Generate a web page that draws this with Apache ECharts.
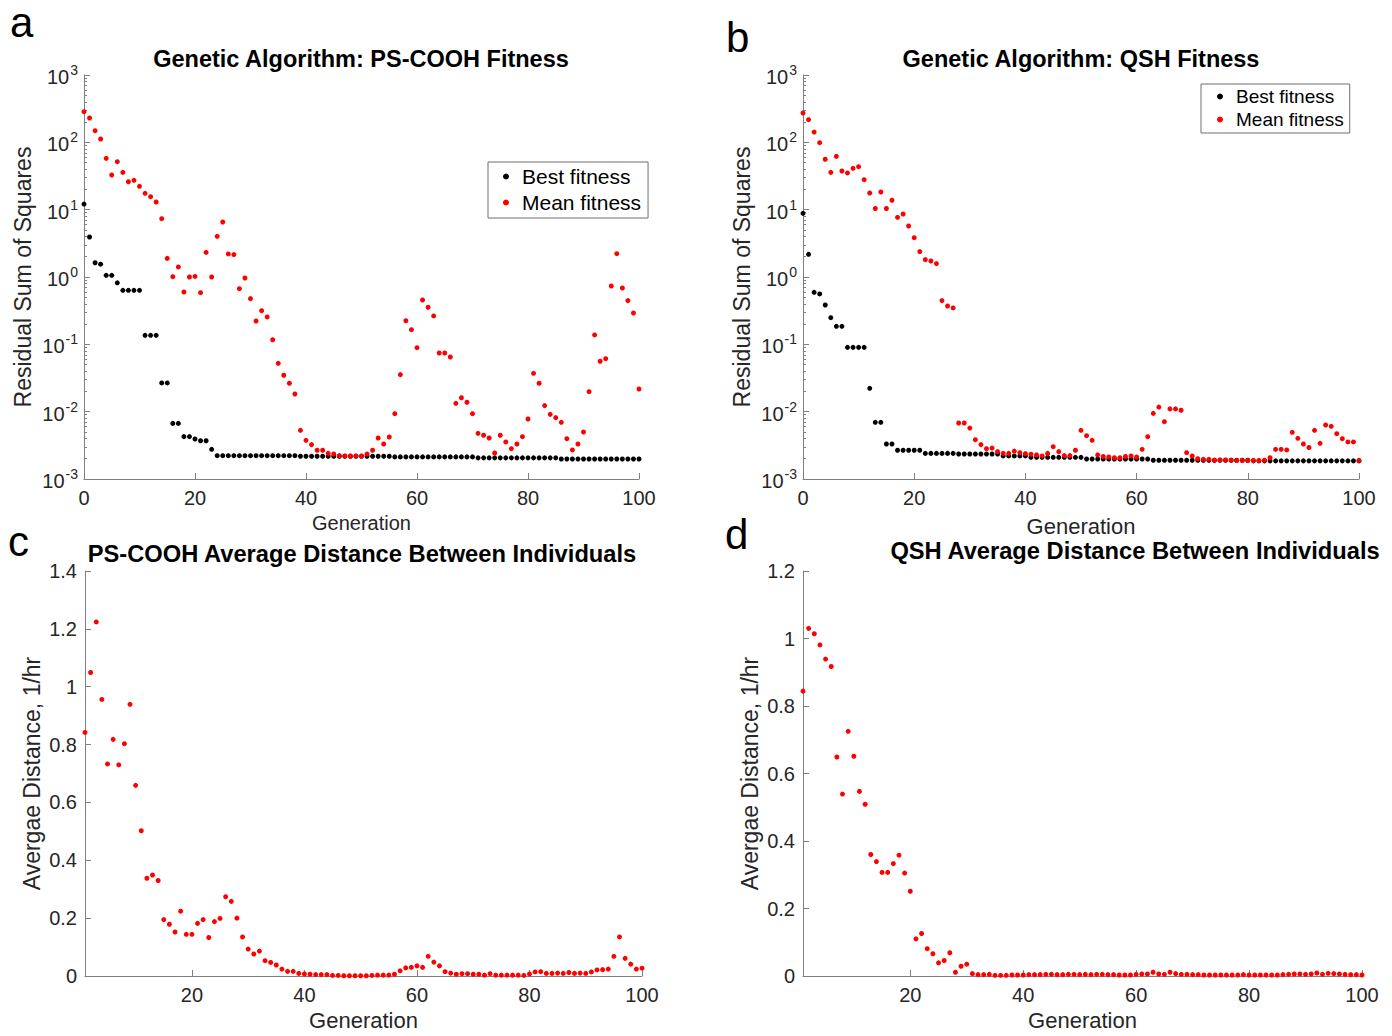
<!DOCTYPE html>
<html>
<head>
<meta charset="utf-8">
<script src="https://cdn.jsdelivr.net/npm/echarts@6/dist/echarts.min.js"></script>
<style>html,body{margin:0;padding:0;background:#fff}#c{width:1392px;height:1036px}</style>
</head>
<body>
<div id="c"></div>
<script>
// ---------- DATA ----------
const bestA = [12.1,3.93,1.63,1.55,1.06,1.06,0.82,0.634,0.634,0.634,
  0.634,0.136,0.136,0.136,0.0267,0.0267,0.0067,0.0067,0.00426,0.00426,
  0.00393,0.0037,0.0037,0.00276,
  0.00222,0.00222,0.00222,0.00222,0.00222,0.00222,0.00222,0.00222,0.00222,0.00222,0.00222,0.00222,0.00222,0.00222,0.00222,
  0.00218,0.00218,0.00218,0.00218,0.00218,0.00218,0.00218,0.00218,0.00218,0.00218,0.00218,0.00218,0.00218,0.00218,0.00218,0.00218,0.00218,
  0.00213,0.00213,0.00213,0.00213,0.00213,0.00213,0.00213,0.00213,0.00213,0.00213,0.00213,0.00213,0.00213,0.00213,0.00213,
  0.00206,0.00206,0.00206,0.00206,0.00206,0.00206,0.00206,0.00206,0.00206,0.00206,0.00206,0.00206,0.00206,0.00206,0.00206,
  0.00198,0.00198,0.00198,0.00198,0.00198,0.00198,0.00198,0.00198,0.00198,0.00198,0.00198,0.00198,0.00198,0.00198,0.00198];
const meanA = [285,230,149,112,57.8,32.7,51.6,35.8,26.0,27.3,
  22.2,17.5,15.6,13.0,7.35,1.89,1.01,1.41,0.598,1.0,
  1.02,0.585,2.32,1.0,4.02,6.56,2.2,2.15,0.671,0.966,
  0.477,0.222,0.316,0.255,0.117,0.0522,0.0347,0.0264,0.0183,0.00528,
  0.00375,0.00324,0.00267,0.00267,0.0024,0.00235,0.00223,0.0022,0.0022,0.0022,
  0.0022,0.00235,0.00267,0.00406,0.00331,0.00421,0.00933,0.0355,0.224,0.165,
  0.0891,0.455,0.355,0.264,0.0743,0.0743,0.0649,0.0133,0.0161,0.0138,
  0.00933,0.00477,0.00446,0.00406,0.00243,0.00446,0.00355,0.00282,0.00331,0.00425,
  0.00778,0.0371,0.0264,0.0123,0.00912,0.00815,0.00695,0.00397,0.0027,0.00331,
  0.00499,0.0198,0.138,0.056,0.0612,0.735,2.22,0.687,0.446,0.292,0.0217];
const bestB = [8.83,2.17,0.592,0.56,0.384,0.249,0.185,0.185,
  0.0902,0.0902,0.0902,0.0902,0.0222,0.00695,0.00695,0.00331,0.00331,
  0.00267,0.00267,0.00267,0.00267,0.00267,
  0.0024,0.0024,0.0024,0.0024,0.0024,0.0024,
  0.00235,0.00235,0.00235,0.00235,0.00235,0.00235,0.00235,0.00235,
  0.0022,0.0022,0.0022,0.0022,0.0022,
  0.0021,0.0021,0.0021,0.0021,0.0021,0.0021,0.0021,0.0021,0.0021,0.0021,
  0.00198,0.00198,0.00198,0.00198,0.00198,0.00198,0.00198,0.00198,0.00198,0.00198,0.00198,0.00198,
  0.0019,0.0019,0.0019,0.0019,0.0019,0.0019,0.0019,0.0019,0.0019,0.0019,0.0019,0.0019,0.0019,0.0019,0.0019,0.0019,0.0019,0.0019,
  0.00186,0.00186,0.00186,0.00186,0.00186,0.00186,0.00186,0.00186,0.00186,0.00186,0.00186,0.00186,0.00186,0.00186,0.00186,0.00186,0.00186,0.00186,0.00186,0.00186];
const meanB = [273,217,142,98.8,56,35.8,61.9,37.5,35.1,41.1,
  43.5,27.9,17.7,10.4,18.3,10.4,13.8,7.69,8.63,5.72,
  3.84,2.38,1.81,1.73,1.58,0.446,0.371,0.347,0.00679,0.00679,
  0.00571,0.00384,0.00324,0.00282,0.00288,0.00255,0.0024,0.0024,0.0026,0.00246,
  0.00238,0.00233,0.00228,0.0022,0.0024,0.00302,0.00255,0.00223,0.00223,0.00267,
  0.00528,0.0044,0.00375,0.00228,0.00216,0.00212,0.00207,0.00207,0.00216,0.0022,
  0.00212,0.00276,0.00425,0.00944,0.0117,0.0071,0.011,0.011,0.0105,0.00246,
  0.0022,0.002,0.00196,0.00196,0.0019,0.00192,0.00192,0.0019,0.00188,0.00188,
  0.00188,0.00188,0.00188,0.0019,0.00207,0.00276,0.00276,0.0027,0.00493,0.00402,
  0.00331,0.00294,0.00528,0.00339,0.00634,0.00606,0.00471,0.00397,0.00355,0.00355,0.00189];
// generations 1..100
const distC = [0.842,1.049,1.224,0.956,0.733,0.818,0.730,0.803,0.939,0.659,
  0.502,0.338,0.349,0.33,0.195,0.179,0.152,0.224,0.144,0.144,
  0.182,0.195,0.133,0.188,0.199,0.274,0.258,0.2,0.135,0.093,
  0.076,0.086,0.053,0.047,0.038,0.024,0.016,0.016,0.009,0.007,
  0.006,0.005,0.005,0.005,0.002,0.002,0.001,0.001,0.001,0.001,
  0.001,0.002,0.003,0.003,0.003,0.006,0.018,0.028,0.03,0.035,
  0.03,0.068,0.048,0.035,0.015,0.01,0.006,0.008,0.008,0.006,
  0.006,0.003,0.008,0.003,0.003,0.003,0.003,0.003,0.002,0.007,
  0.014,0.015,0.009,0.009,0.01,0.009,0.012,0.009,0.01,0.009,
  0.014,0.021,0.022,0.024,0.068,0.135,0.061,0.041,0.024,0.027];
const distD = [0.844,1.030,1.014,0.981,0.939,0.917,0.649,0.539,0.725,0.651,
  0.547,0.509,0.36,0.339,0.307,0.307,0.333,0.358,0.305,0.251,
  0.11,0.126,0.081,0.066,0.039,0.046,0.069,0.011,0.029,0.035,
  0.007,0.004,0.004,0.005,0.002,0.002,0.002,0.003,
  0.003,0.003,0.004,0.004,0.004,0.005,0.005,0.004,0.004,0.005,0.005,0.004,0.005,0.004,0.005,0.005,0.004,0.004,0.003,0.003,0.003,0.005,0.006,0.006,
  0.011,0.006,0.005,0.011,0.007,
  0.005,0.005,0.004,0.004,0.003,
  0.003,0.003,0.003,0.003,0.003,0.003,0.004,0.003,0.003,0.003,0.003,0.003,0.003,0.004,
  0.005,0.006,0.006,0.005,0.006,0.009,0.005,0.008,0.007,0.006,0.005,0.004,0.004,0.003];
const xTicksGen = [20,40,60,80,100];
const seriesNames = ['Best fitness','Mean fitness'];
const titles = ['Genetic Algorithm: PS-COOH Fitness','Genetic Algorithm: QSH Fitness',
  'PS-COOH Average Distance Between Individuals','QSH Average Distance Between Individuals'];
const panelLetters = ['a','b','c','d'];

// ---------- CHART ----------
const FF = "'Liberation Sans', Arial, sans-serif";
const AX = '#7f7f7f', TX = '#262626';
const toPts = (arr, start) => arr.map((v, i) => [i + start, v]);

const minorLog = [];
for (let e = -3; e < 3; e++) for (let m = 2; m <= 9; m++) minorLog.push(+(m * Math.pow(10, e)).toPrecision(3));

const grids = [
  {left: 84, top: 75, width: 555, height: 404},
  {left: 803, top: 75, width: 556, height: 404},
  {left: 85, top: 571, width: 557, height: 405},
  {left: 803, top: 571, width: 559, height: 405}
];

function xAxis(gi, startAt1, nameGap, nameSize) {
  const a = {
    type: 'value', gridIndex: gi, min: startAt1 ? 1 : 0, max: 100,
    name: 'Generation', nameLocation: 'middle', nameGap: nameGap,
    nameTextStyle: {fontFamily: FF, fontSize: nameSize, color: TX},
    axisLine: {show: true, onZero: false, lineStyle: {color: AX, width: 1}},
    axisTick: {show: true, inside: true, length: 6, lineStyle: {color: AX}},
    axisLabel: {fontFamily: FF, fontSize: 20, color: TX, margin: 9},
    splitLine: {show: false}
  };
  if (startAt1) {
    a.axisTick.customValues = xTicksGen;
    a.axisLabel.customValues = xTicksGen;
  } else {
    a.interval = 20;
  }
  return a;
}

function logYAxis(gi) {
  return {
    type: 'log', logBase: 10, gridIndex: gi, min: 0.001, max: 1000, position: 'left',
    name: 'Residual Sum of Squares', nameLocation: 'middle', nameGap: 50, nameRotate: 90,
    nameTextStyle: {fontFamily: FF, fontSize: 23, color: TX},
    axisLine: {show: true, lineStyle: {color: AX}},
    axisTick: {show: true, inside: true, length: 6, lineStyle: {color: AX}},
    axisLabel: {
      margin: 6, color: TX,
      formatter: v => '{b|10}{s|' + Math.round(Math.log10(v)) + '}',
      rich: {
        b: {fontFamily: FF, fontSize: 20, color: TX, lineHeight: 24, verticalAlign: 'bottom'},
        s: {fontFamily: FF, fontSize: 14, color: TX, lineHeight: 24, verticalAlign: 'bottom', padding: [0, 0, 10, 1]}
      }
    },
    splitLine: {show: false}
  };
}
function minorYAxis(gi) {
  return {
    type: 'log', logBase: 10, gridIndex: gi, min: 0.001, max: 1000, position: 'left',
    axisLine: {show: false},
    axisTick: {show: true, inside: true, length: 3, lineStyle: {color: AX}, customValues: minorLog},
    axisLabel: {show: false}, splitLine: {show: false}
  };
}
function linYAxis(gi, max) {
  return {
    type: 'value', gridIndex: gi, min: 0, max: max, interval: 0.2, position: 'left',
    name: 'Avergae Distance, 1/hr', nameLocation: 'middle', nameGap: 42, nameRotate: 90,
    nameTextStyle: {fontFamily: FF, fontSize: 23, color: TX},
    axisLine: {show: true, lineStyle: {color: AX}},
    axisTick: {show: true, inside: true, length: 6, lineStyle: {color: AX}},
    axisLabel: {fontFamily: FF, fontSize: 20, color: TX, margin: 8},
    splitLine: {show: false}
  };
}

function sc(name, data, xi, yi, color) {
  return {
    type: 'scatter', name: name, xAxisIndex: xi, yAxisIndex: yi, data: data,
    symbol: 'circle', symbolSize: 5, itemStyle: {color: color, opacity: 1}, silent: true, animation: false
  };
}

const legendCommon = {
  orient: 'vertical', icon: 'circle', itemWidth: 6, itemHeight: 6,
  backgroundColor: '#fff', borderColor: '#6e6e6e', borderWidth: 1, borderRadius: 0,
  data: seriesNames, selectedMode: false
};

const textEl = (x, y, text, size, bold, align) => ({
  type: 'text', x: x, y: y,
  style: {text: text, fontFamily: FF, fontSize: size, fontWeight: bold ? 'bold' : 'normal',
          fill: '#000', textAlign: align || 'center', textVerticalAlign: 'middle'}
});

const option = {
  animation: false,
  backgroundColor: '#fff',
  grid: grids,
  xAxis: [xAxis(0, false, 34, 20), xAxis(1, false, 36, 22), xAxis(2, true, 33, 22), xAxis(3, true, 33, 22)],
  yAxis: [logYAxis(0), minorYAxis(0), logYAxis(1), minorYAxis(1), linYAxis(2, 1.4), linYAxis(3, 1.2)],
  legend: [
    Object.assign({}, legendCommon, {left: 488, top: 162, padding: [4, 7, 5, 15], itemGap: 5, itemTextGap: 12,
      textStyle: {fontFamily: FF, fontSize: 21, color: '#000', padding: [0, 0, 0, 8]}}),
    Object.assign({}, legendCommon, {left: 1201, top: 84, padding: [3, 6, 4, 16], itemGap: 4, itemTextGap: 12,
      textStyle: {fontFamily: FF, fontSize: 19, color: '#000', padding: [0, 0, 0, 8]}})
  ],
  series: [
    sc(seriesNames[0], toPts(bestA, 0), 0, 0, '#000'),
    sc(seriesNames[1], toPts(meanA, 0), 0, 0, '#ff0000'),
    sc(seriesNames[0], toPts(bestB, 0), 1, 2, '#000'),
    sc(seriesNames[1], toPts(meanB, 0), 1, 2, '#ff0000'),
    sc('Distance c', toPts(distC, 1), 2, 4, '#ff0000'),
    sc('Distance d', toPts(distD, 1), 3, 5, '#ff0000')
  ],
  graphic: [
    textEl(361, 59, titles[0], 23.5, true),
    textEl(1081, 59, titles[1], 23.5, true),
    textEl(362, 554, titles[2], 23.7, true),
    textEl(1135, 551, titles[3], 23.7, true),
    textEl(10, 22, panelLetters[0], 42, false, 'left'),
    textEl(726, 37, panelLetters[1], 42, false, 'left'),
    textEl(8, 541, panelLetters[2], 42, false, 'left'),
    textEl(725, 534, panelLetters[3], 42, false, 'left')
  ]
};

const chart = echarts.init(document.getElementById('c'), null, {renderer: 'svg', width: 1392, height: 1036});
chart.setOption(option);
</script>
</body>
</html>
